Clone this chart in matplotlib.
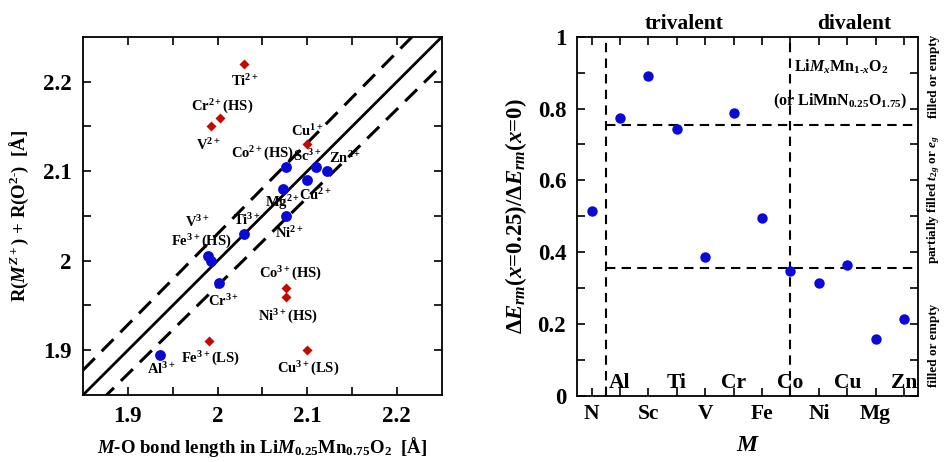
import matplotlib
matplotlib.use("Agg")
import matplotlib.pyplot as plt
import numpy as np
from matplotlib.transforms import blended_transform_factory

plt.rcParams['font.family'] = ['Liberation Serif', 'DejaVu Serif']
plt.rcParams['font.weight'] = 'bold'
plt.rcParams['mathtext.fontset'] = 'custom'
plt.rcParams['mathtext.rm'] = 'Liberation Serif:bold'
plt.rcParams['mathtext.it'] = 'Liberation Serif:bold:italic'
plt.rcParams['mathtext.bf'] = 'Liberation Serif:bold'

# ---------------- data: left panel ----------------
blue_names = ["Al$^{3+}$", "Cr$^{3+}$", "V$^{3+}$", "Fe$^{3+}$(HS)", "Ti$^{3+}$",
              "Ni$^{2+}$", "Mg$^{2+}$", "Co$^{2+}$(HS)", "Cu$^{2+}$", "Sc$^{3+}$", "Zn$^{2+}$"]
blue_bond = [1.936, 2.002, 1.989, 1.993, 2.030, 2.076, 2.073, 2.076, 2.100, 2.110, 2.122]
blue_radii = [1.895, 1.975, 2.005, 2.000, 2.030, 2.050, 2.080, 2.105, 2.090, 2.105, 2.100]

red_names = ["Ti$^{2+}$", "Cr$^{2+}$(HS)", "V$^{2+}$", "Cu$^{1+}$", "Co$^{3+}$(HS)",
             "Ni$^{3+}$(HS)", "Fe$^{3+}$(LS)", "Cu$^{3+}$(LS)"]
red_bond = [2.030, 2.003, 1.993, 2.100, 2.076, 2.076, 1.990, 2.100]
red_radii = [2.220, 2.160, 2.150, 2.130, 1.970, 1.960, 1.910, 1.900]

# ---------------- data: right panel ----------------
elements = ["N", "Al", "Sc", "Ti", "V", "Cr", "Fe", "Co", "Ni", "Cu", "Mg", "Zn"]
ratio = [0.514, 0.773, 0.891, 0.743, 0.388, 0.787, 0.495, 0.349, 0.314, 0.365, 0.159, 0.214]
upper_level = 0.755
lower_level = 0.355

# label offsets (pixels, label centre relative to marker) -- styling only
blue_off = [(1, -14), (4, -18), (-10, 34), (-10, 19), (3, 14), (4, -17), (0, -13),
            (-23, 13), (8, -15), (-9, 11), (18, 13)]
red_off = [(1, -17), (2, 11), (-3, -19), (0, 13), (5, 14), (2, -20), (2, -18), (1, -19)]

BLUE = '#0a0ad6'
RED = '#c40a00'

fig = plt.figure(figsize=(9.45, 4.62), dpi=100)

# ================= left panel =================
ax1 = fig.add_axes([83/945, 67/462, 358.7/945, 358/462])
lim = (1.85, 2.25)
xx = np.array(lim)
ax1.plot(xx, xx, color='black', lw=2.0, zorder=2)
ax1.plot(xx, xx*1.015, color='black', lw=2.2, ls=(0, (5.5, 3.2)), zorder=2)
ax1.plot(xx, xx*0.986, color='black', lw=2.2, ls=(0, (5.5, 3.2)), zorder=2)
ax1.plot(blue_bond, blue_radii, 'o', color=BLUE, ms=7.8, zorder=3, mec='none')
ax1.plot(red_bond, red_radii, 'D', color=RED, ms=5.6, zorder=3, mec='none')
px2pt = 0.72
for n, x, y, (dx, dy) in zip(blue_names, blue_bond, blue_radii, blue_off):
    ax1.annotate(n, (x, y), xytext=(dx*px2pt, dy*px2pt), textcoords='offset points',
                 ha='center', va='center', fontsize=10.5, fontweight='bold', zorder=4)
for n, x, y, (dx, dy) in zip(red_names, red_bond, red_radii, red_off):
    ax1.annotate(n, (x, y), xytext=(dx*px2pt, dy*px2pt), textcoords='offset points',
                 ha='center', va='center', fontsize=10.5, fontweight='bold', zorder=4)
ax1.set_xlim(*lim)
ax1.set_ylim(*lim)
ticks = [1.9, 2.0, 2.1, 2.2]
ax1.set_xticks(ticks, ["1.9", "2", "2.1", "2.2"])
ax1.set_yticks(ticks, ["1.9", "2", "2.1", "2.2"])
ax1.set_xticks([1.95, 2.05, 2.15], minor=True)
ax1.set_yticks([1.95, 2.05, 2.15], minor=True)
ax1.tick_params(which='both', direction='in', top=True, right=True, width=1.2,
                labelsize=16.5, pad=8)
ax1.tick_params(which='major', length=6)
ax1.tick_params(which='minor', length=6)
for s in ax1.spines.values():
    s.set_linewidth(1.3)
ax1.set_xlabel("$M$-O bond length in Li$M_{0.25}$Mn$_{0.75}$O$_2$  [Å]",
               fontsize=13.5, fontweight='bold', labelpad=6)
ax1.set_ylabel("R($M^{Z+}$) + R(O$^{2\u2010}$)  [Å]", fontsize=13.5, fontweight='bold',
               labelpad=9)

# ================= right panel =================
ax2 = fig.add_axes([577.3/945, 66/462, 341/945, 359.3/462])
idx = np.arange(len(elements))
ax2.plot(idx, ratio, 'o', color=BLUE, ms=7.5, mec='none', zorder=3)
dash = (0, (4.5, 3.0))
ax2.axvline(0.5, color='black', lw=1.5, ls=dash, zorder=2)
ax2.axvline(7, color='black', lw=1.5, ls=dash, zorder=2)
ax2.plot([0.5, len(elements) - 0.5], [upper_level, upper_level], color='black', lw=1.5, ls=dash)
ax2.plot([0.5, len(elements) - 0.5], [lower_level, lower_level], color='black', lw=1.5, ls=dash)
ax2.set_xlim(-0.5, len(elements) - 0.5)
ax2.set_ylim(0, 1)
even = idx[::2]
odd = idx[1::2]
ax2.set_xticks(even, [elements[i] for i in even])
ax2.set_xticks(odd, minor=True)
trans = blended_transform_factory(ax2.transData, ax2.transAxes)
for i in odd:
    ax2.text(i, 0.037, elements[i], transform=trans, ha='center', va='center',
             fontsize=15.5, fontweight='bold')
ax2.set_yticks([0, 0.2, 0.4, 0.6, 0.8, 1.0], ["0", "0.2", "0.4", "0.6", "0.8", "1"])
ax2.set_yticks([0.1, 0.3, 0.5, 0.7, 0.9], minor=True)
ax2.tick_params(which='both', direction='in', top=True, right=True, width=1.2, length=6)
ax2.tick_params(axis='x', labelsize=15.5, pad=6)
ax2.tick_params(axis='y', labelsize=16.5, pad=8)
for s in ax2.spines.values():
    s.set_linewidth(1.3)
ax2.set_xlabel("$M$", fontsize=17, labelpad=8)
ax2.set_ylabel(r"$\Delta E_{rm}$($x$=0.25)/$\Delta E_{rm}$($x$=0)",
               fontsize=16.5, fontweight='bold', labelpad=6)

ax2.text(3.25, 1.008, "trivalent", ha='center', va='bottom', fontsize=15.5, fontweight='bold',
         transform=trans)
ax2.text(9.25, 1.008, "divalent", ha='center', va='bottom', fontsize=15.5, fontweight='bold',
         transform=trans)
ax2.text(8.8, 0.915, "Li$M_x$Mn$_{1\u2010x}$O$_2$", ha='center', va='center', fontsize=11.5)
ax2.text(8.75, 0.82, "(or LiMnN$_{0.25}$O$_{1.75}$)", ha='center', va='center', fontsize=11.5)

rtrans = blended_transform_factory(ax2.transAxes, ax2.transData)
ax2.text(1.046, 0.89, "filled or empty", rotation=90, ha='center', va='center',
         fontsize=9.5, transform=rtrans)
ax2.text(1.046, 0.545, "partially filled $t_{2g}$ or $e_g$", rotation=90, ha='center',
         va='center', fontsize=9.5, transform=rtrans)
ax2.text(1.046, 0.14, "filled or empty", rotation=90, ha='center', va='center',
         fontsize=9.5, transform=rtrans)

fig.savefig("out.png", dpi=100)
